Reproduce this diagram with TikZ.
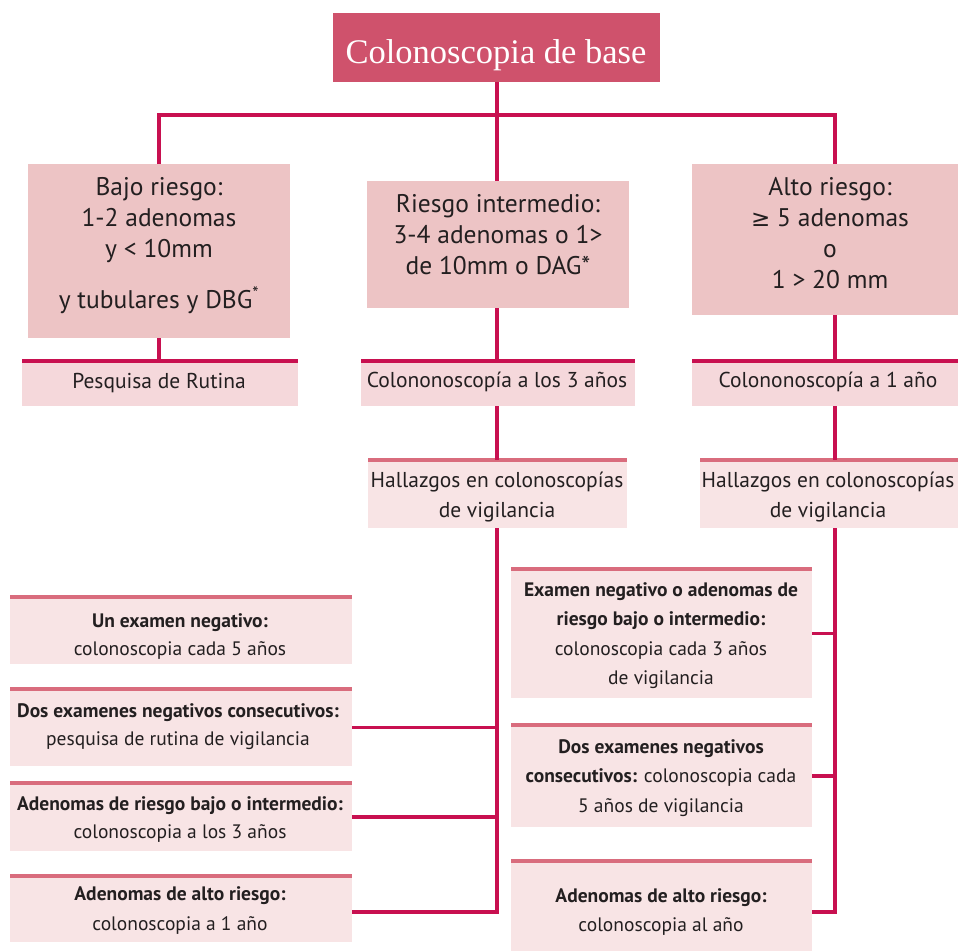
\documentclass[tikz,border=0pt]{standalone}
\usepackage{fontspec}
\setmainfont{PT Sans}
\newfontfamily\titlefont{Liberation Serif}
\newfontfamily\symfont{DejaVu Sans}
\usetikzlibrary{fit}
\definecolor{titlered}{RGB}{207,82,108}
\definecolor{connred}{RGB}{200,16,80}
\definecolor{toplight}{RGB}{217,108,125}
\definecolor{bigfill}{RGB}{237,196,197}
\definecolor{midfill}{RGB}{245,216,219}
\definecolor{lightfill}{RGB}{248,228,229}
\definecolor{txtgray}{RGB}{35,31,32}
\newcommand{\mlines}[1]{\begin{tabular}[t]{@{}c@{}}#1\end{tabular}}
\tikzset{
  boxbase/.style={inner sep=0pt, outer sep=0pt, draw=none},
  titlebox/.style={boxbase, fill=titlered},
  bigbox/.style={boxbase, fill=bigfill},
  midbox/.style={boxbase, fill=midfill},
  lightbox/.style={boxbase, fill=lightfill},
  conn/.style={draw=connred, line width=3.3pt},
  topdark/.style={draw=connred, line width=3.3pt},
  toplt/.style={draw=toplight, line width=3.3pt},
  bigtxt/.style={anchor=base, inner sep=0pt, text=txtgray, font=\fontsize{25.5}{31}\selectfont},
  medtxt/.style={anchor=base, inner sep=0pt, text=txtgray, font=\fontsize{21.5}{30}\selectfont},
  smltxt/.style={anchor=base, inner sep=0pt, text=txtgray, font=\fontsize{19.5}{28}\selectfont},
  smrtxt/.style={anchor=base, inner sep=0pt, text=txtgray, font=\fontsize{19.5}{29.5}\selectfont},
}
\begin{document}
\begin{tikzpicture}[x=1pt,y=-1pt]
\useasboundingbox (0,0) rectangle (958,951);
\fill[white] (0,0) rectangle (958,951);
% boxes
\node[titlebox, fit={(333,13) (660,82)}] (title) {};
\node[bigbox, fit={(28,164) (290,338)}] (low) {};
\node[bigbox, fit={(367,181) (629,308)}] (mid) {};
\node[bigbox, fit={(692,164) (958,315)}] (high) {};
\node[midbox, fit={(22,361) (298,406)}] (r1) {};
\node[midbox, fit={(361,361) (635,406)}] (r2) {};
\node[midbox, fit={(692,361) (958,406)}] (r3) {};
\node[lightbox, fit={(368,460) (627,528)}] (hall1) {};
\node[lightbox, fit={(700,460) (958,528)}] (hall2) {};
\node[lightbox, fit={(10,597) (352,664)}] (lb1) {};
\node[lightbox, fit={(10,689) (352,766)}] (lb2) {};
\node[lightbox, fit={(10,783) (352,851)}] (lb3) {};
\node[lightbox, fit={(10,876) (352,942)}] (lb4) {};
\node[lightbox, fit={(511,569) (812,698)}] (rb1) {};
\node[lightbox, fit={(511,725) (812,827)}] (rb2) {};
\node[lightbox, fit={(511,861) (812,951)}] (rb3) {};
% top lines
\foreach \b in {r1,r2,r3} \draw[topdark] (\b.north west) -- (\b.north east);
\foreach \b in {hall1,hall2,lb1,lb2,lb3,lb4,rb1,rb2,rb3} \draw[toplt] (\b.north west) -- (\b.north east);
% coordinates
\coordinate (mx) at (497,0);
\coordinate (rx) at (835,0);
\coordinate (hub) at (497,115);
% connectors
\draw[conn] (title.south -| mx) -- (mid.north -| mx);
\draw[conn] (low.north) |- (hub) -| (high.north -| rx);
\draw[conn] (low.south) -- (low.south |- r1.north);
\draw[conn] (mid.south -| mx) -- (r2.north -| mx);
\draw[conn] (high.south -| rx) -- (r3.north -| rx);
\draw[conn] (r2.south -| mx) -- (hall1.north -| mx);
\draw[conn] (r3.south -| rx) -- (hall2.north -| rx);
\draw[conn] (lb2.east) -| (hall1.south -| mx);
\draw[conn] (lb3.east) -- (lb3.east -| mx);
\draw[conn] ([yshift=-3pt]lb4.east) -| (mx |- hall1.south);
\draw[conn] (rb1.east) -| (hall2.south -| rx);
\draw[conn] (rb2.east) -- (rb2.east -| rx);
\draw[conn] ([yshift=-6pt]rb3.east) -| (rx |- hall2.south);
% texts
\node[anchor=base, inner sep=0pt, text=white, font=\titlefont\fontsize{34.5}{38}\selectfont] (ttitle) at (496,63) {Colonoscopia de base};
\node[bigtxt] (tlow) at (159,195) {\mlines{Bajo riesgo:\\1-2 adenomas\\y < 10mm\\[20pt]y tubulares y DBG\textsuperscript{*}}};
\node[bigtxt] (tmid) at (498,212) {\mlines{Riesgo intermedio:\\3-4 adenomas o 1>\\de 10mm o DAG*}};
\node[bigtxt] (thigh) at (830,195) {\mlines{Alto riesgo:\\{\symfont\fontsize{23}{31}\selectfont ≥} 5 adenomas\\o\\1 > 20 mm}};
\node[medtxt] (tr1) at (159,388) {Pesquisa de Rutina};
\node[medtxt] (tr2) at (497,387) {Colononoscopía a los 3 años};
\node[medtxt] (tr3) at (828,387) {Colononoscopía a 1 año};
\node[medtxt] (th1) at (497,487) {\mlines{Hallazgos en colonoscopías\\de vigilancia}};
\node[medtxt] (th2) at (828,487) {\mlines{Hallazgos en colonoscopías\\de vigilancia}};
\node[smltxt] (tl1) at (180,627) {\mlines{\textbf{Un examen negativo:}\\colonoscopia cada 5 años}};
\node[smltxt] (tl2) at (178,717) {\mlines{\textbf{Dos examenes negativos consecutivos:}\\pesquisa de rutina de vigilancia}};
\node[smltxt] (tl3) at (180,810) {\mlines{\textbf{Adenomas de riesgo bajo o intermedio:}\\colonoscopia a los 3 años}};
\node[smltxt] (tl4) at (180,900) {\mlines{\textbf{Adenomas de alto riesgo:}\\[2pt]colonoscopia a 1 año}};
\node[smrtxt] (tb1) at (661,596) {\mlines{\textbf{Examen negativo o adenomas de}\\\textbf{riesgo bajo o intermedio:}\\colonoscopia cada 3 años\\de vigilancia}};
\node[smrtxt] (tb2) at (661,753) {\mlines{\textbf{Dos examenes negativos}\\\textbf{consecutivos:} colonoscopia cada\\5 años de vigilancia}};
\node[smrtxt] (tb3) at (661,902) {\mlines{\textbf{Adenomas de alto riesgo:}\\colonoscopia al año}};
\end{tikzpicture}
\end{document}
